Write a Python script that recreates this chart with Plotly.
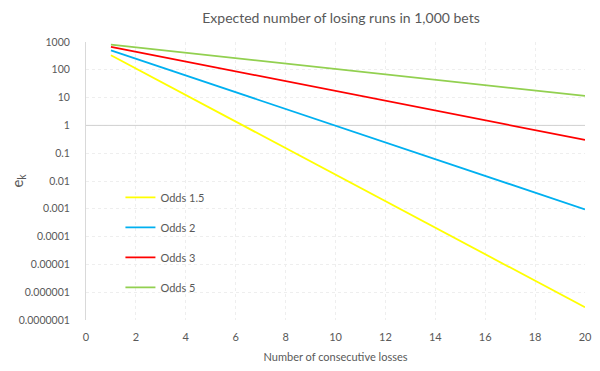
import plotly.graph_objects as go

losses = list(range(1, 21))
odds_1_5 = [333.3, 111.1, 37.04, 12.35, 4.115, 1.372, 0.4572, 0.1524, 0.0508, 0.01694,
            0.005645, 0.001882, 0.000627, 0.000209, 6.97e-5, 2.32e-5, 7.74e-6, 2.58e-6, 8.6e-7, 2.87e-7]
odds_2 = [500, 250, 125, 62.5, 31.25, 15.63, 7.81, 3.91, 1.95, 0.977,
          0.488, 0.244, 0.122, 0.061, 0.0305, 0.0153, 0.00763, 0.00381, 0.00191, 0.000954]
odds_3 = [666.7, 444.4, 296.3, 197.5, 131.7, 87.8, 58.5, 39.0, 26.0, 17.3,
          11.56, 7.71, 5.14, 3.43, 2.28, 1.52, 1.015, 0.677, 0.451, 0.301]
odds_5 = [800, 640, 512, 409.6, 327.7, 262.1, 209.7, 167.8, 134.2, 107.4,
          85.9, 68.7, 55.0, 44.0, 35.2, 28.1, 22.5, 18.0, 14.4, 11.5]

series_names = ["Odds 1.5", "Odds 2", "Odds 3", "Odds 5"]
series_values = [odds_1_5, odds_2, odds_3, odds_5]
series_colors = ["#FFFF00", "#00B0F0", "#FF0000", "#92D050"]

y_tickvals = [1000, 100, 10, 1, 0.1, 0.01, 0.001, 0.0001, 0.00001, 0.000001, 0.0000001]
y_ticktext = ["1000", "100", "10", "1", "0.1", "0.01", "0.001", "0.0001", "0.00001", "0.000001", "0.0000001"]
x_tickvals = [0, 2, 4, 6, 8, 10, 12, 14, 16, 18, 20]

FONT = "Lato"
GREY = "#595959"

fig = go.Figure()
for i, (name, vals, col) in enumerate(zip(series_names, series_values, series_colors)):
    fig.add_trace(go.Scatter(x=losses, y=vals, mode="lines", name=name,
                             line=dict(color=col, width=1.8), legendgroup=str(i)))

fig.add_shape(type="line", xref="x", yref="y", x0=0, x1=20, y0=1, y1=1,
              line=dict(color="#d0d0d0", width=1), layer="between")

fig.update_layout(
    width=600, height=371,
    margin=dict(l=78, r=23, t=34, b=59),
    paper_bgcolor="white", plot_bgcolor="white",
    font=dict(family=FONT, color=GREY, size=11),
    title=dict(text="Expected number of losing runs in 1,000 bets",
               x=0.555, xanchor="center", y=0.973, yanchor="middle",
               font=dict(size=14, color=GREY, family=FONT)),
    legend=dict(x=0.069, y=0.493, xanchor="left", yanchor="top",
                bgcolor="rgba(0,0,0,0)", font=dict(size=11, color=GREY, family=FONT),
                tracegroupgap=11, itemwidth=30),
    showlegend=True,
)
fig.update_xaxes(range=[0, 20], tickvals=x_tickvals, showline=False, automargin=False,
                 showgrid=True, gridcolor="#eeeeee", griddash="dot", gridwidth=1,
                 zeroline=False, ticks="", tickfont=dict(size=11, color=GREY),
                 ticklabelstandoff=9,
                 title=dict(text="Number of consecutive losses", font=dict(size=11, color=GREY), standoff=11))
fig.update_yaxes(type="log", range=[-7, 3], tickvals=y_tickvals, ticktext=y_ticktext,
                 showline=True, linecolor="#d9d9d9", linewidth=1, automargin=False,
                 showgrid=True, gridcolor="#eeeeee", griddash="dot", gridwidth=1,
                 zeroline=False, ticks="", ticklabelstandoff=13,
                 tickfont=dict(size=10.5, color=GREY),
                 title=dict(text="e<sub>k</sub>", font=dict(size=15, color=GREY), standoff=10))

fig.write_html("out.html")
